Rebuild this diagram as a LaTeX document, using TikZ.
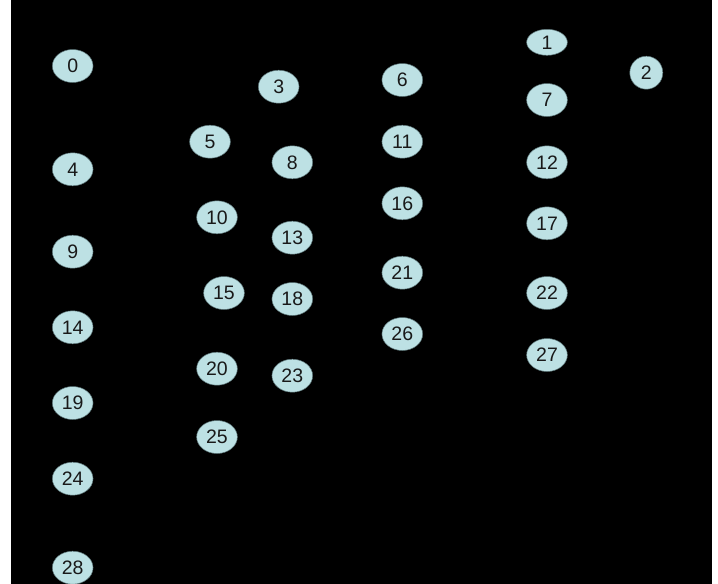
\documentclass[tikz,border=0pt]{standalone}
\usepackage{fontspec}
\setmainfont{Liberation Sans}
\usetikzlibrary{shapes.geometric}
\definecolor{nodefill}{RGB}{189,225,228}
\definecolor{nodeline}{RGB}{90,115,118}
\definecolor{nodetext}{RGB}{25,25,25}
\tikzset{
  vertex/.style={ellipse, draw=nodeline, line width=0.5pt, fill=nodefill, text=nodetext,
    minimum width=40.7pt, minimum height=33pt, inner sep=0pt, font=\fontsize{19.5}{19.5}\selectfont},
  flatvertex/.style={vertex, minimum height=26pt},
  roundvertex/.style={vertex, minimum width=33pt}
}
\begin{document}
\begin{tikzpicture}[x=1pt,y=-1pt]
\useasboundingbox (0,0) rectangle (718,584);
\fill[white] (0,0) rectangle (718,584);
\fill[black] (11,0) rectangle (712,583.5);
\node[vertex] (n0) at (72.7,66) {0};
\node[flatvertex] (n1) at (547,42.3) {1};
\node[roundvertex] (n2) at (646.3,72.7) {2};
\node[vertex] (n3) at (278.7,86.7) {3};
\node[vertex] (n4) at (72.7,169.3) {4};
\node[vertex] (n5) at (210,141.7) {5};
\node[vertex] (n6) at (402.3,80) {6};
\node[vertex] (n7) at (547,100) {7};
\node[vertex] (n8) at (292.3,162.3) {8};
\node[vertex] (n9) at (72.7,251.7) {9};
\node[vertex] (n10) at (217,217.3) {10};
\node[vertex] (n11) at (402.3,141.7) {11};
\node[vertex] (n12) at (547,162.3) {12};
\node[vertex] (n13) at (292.3,237.7) {13};
\node[vertex] (n14) at (72.7,327.3) {14};
\node[vertex] (n15) at (224,293) {15};
\node[vertex] (n16) at (402.3,203.3) {16};
\node[vertex] (n17) at (547,223.3) {17};
\node[vertex] (n18) at (292.3,299) {18};
\node[vertex] (n19) at (72.7,403) {19};
\node[vertex] (n20) at (217,368.7) {20};
\node[vertex] (n21) at (402.3,272.7) {21};
\node[vertex] (n22) at (547,293) {22};
\node[vertex] (n23) at (292.3,375.7) {23};
\node[vertex] (n24) at (72.7,478.7) {24};
\node[vertex] (n25) at (217,437) {25};
\node[vertex] (n26) at (402.3,334) {26};
\node[vertex] (n27) at (547,355) {27};
\node[vertex] (n28) at (72.7,567.7) {28};
\end{tikzpicture}
\end{document}
